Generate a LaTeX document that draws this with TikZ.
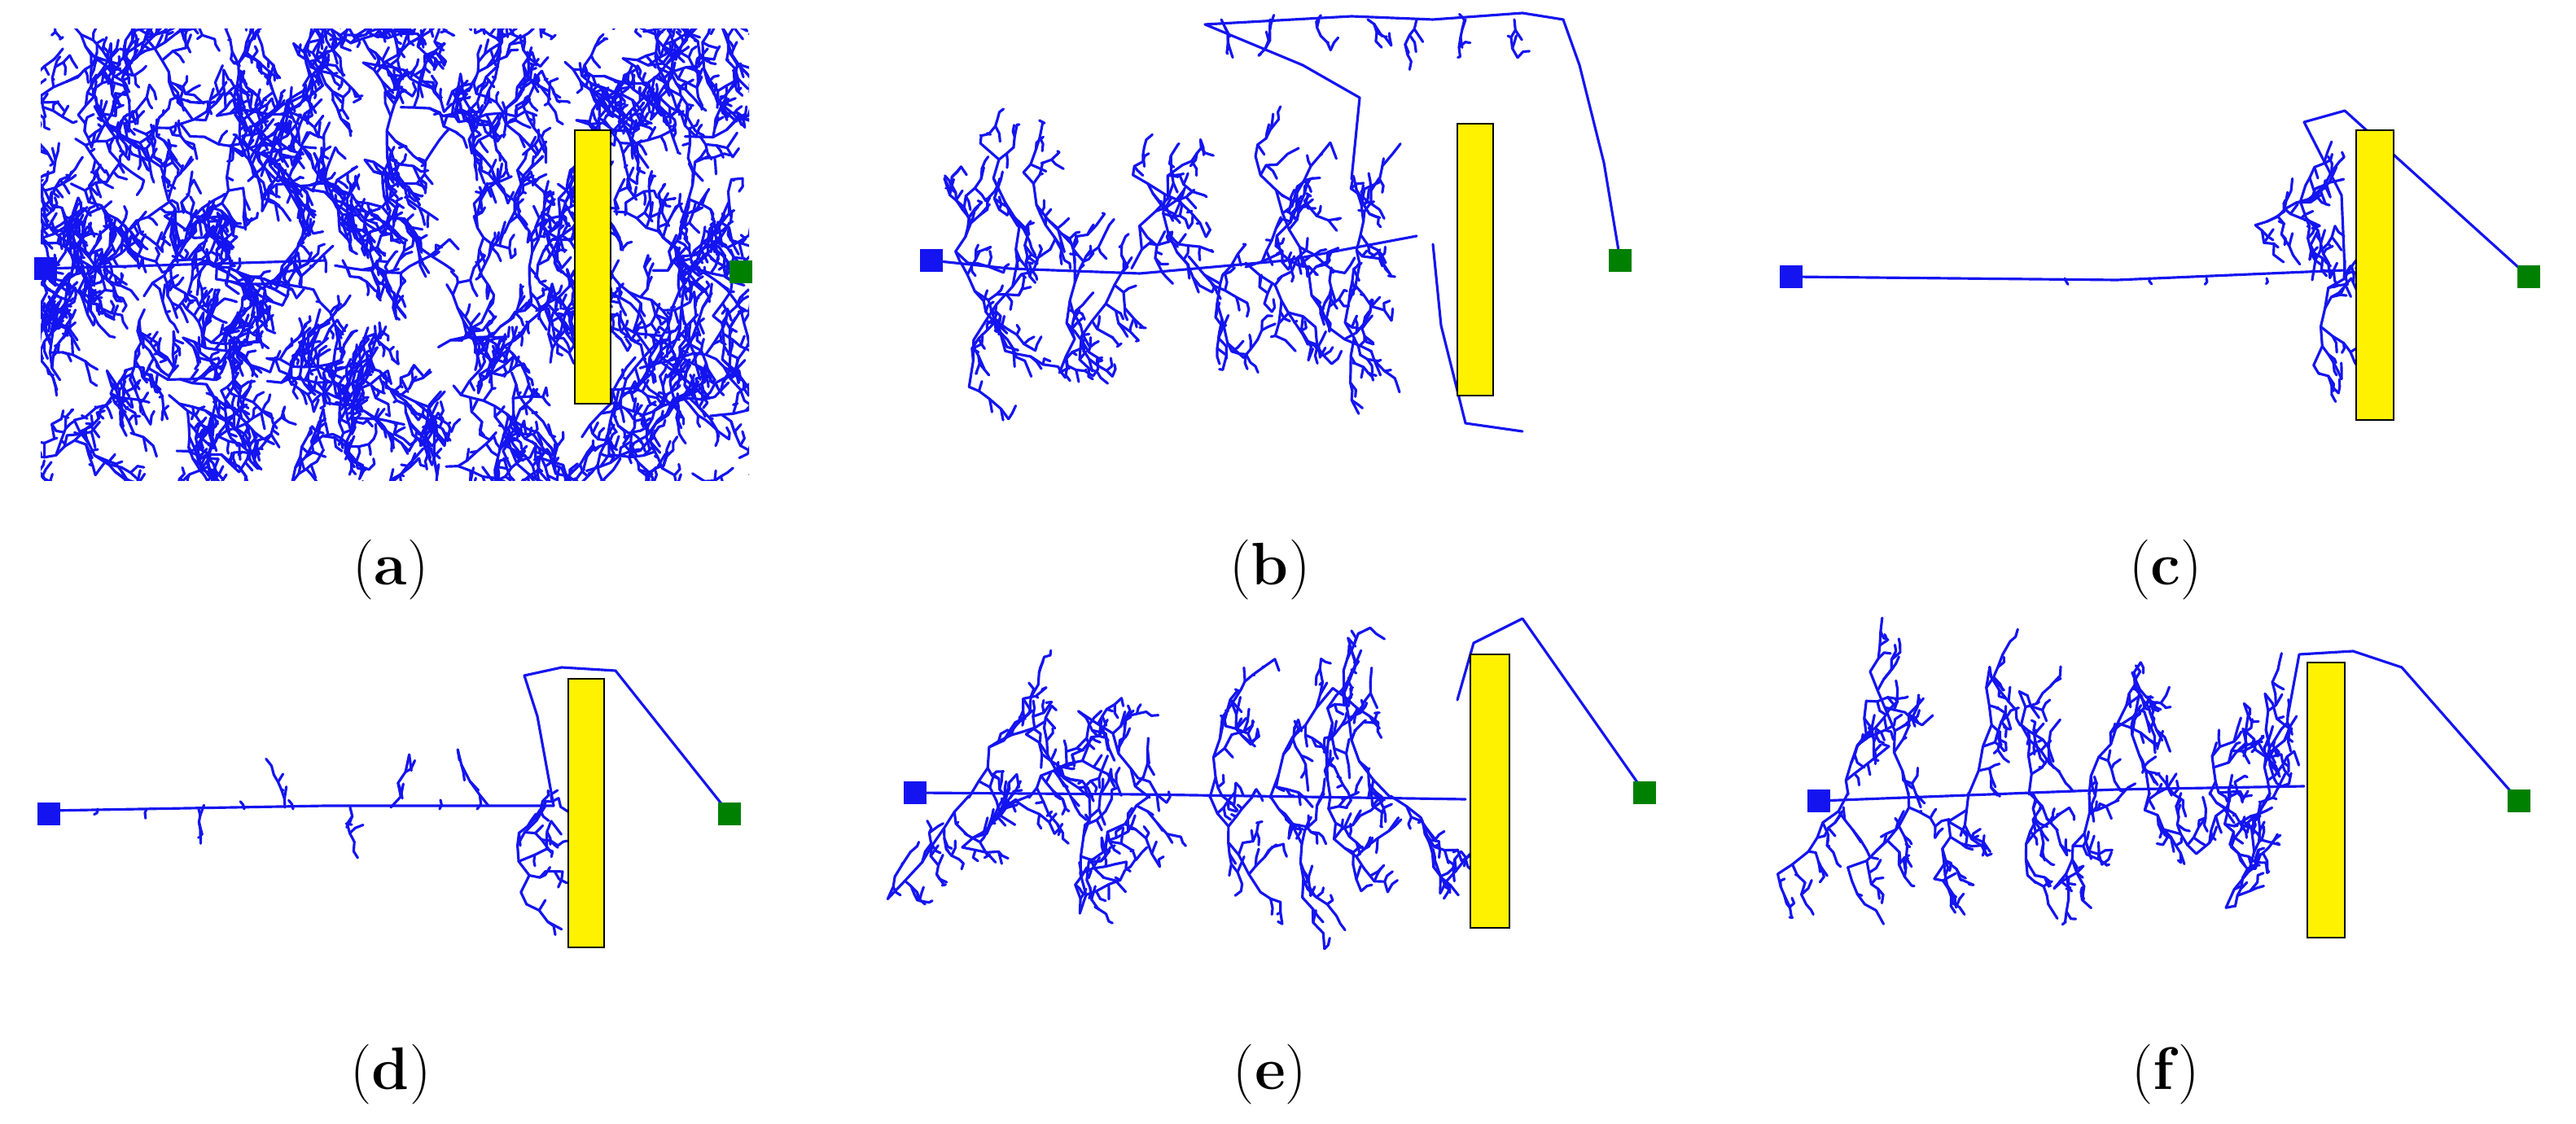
\documentclass[tikz,border=0pt]{standalone}
\begin{document}
\pgfmathsetseed{11}
\definecolor{treeblue}{RGB}{20,20,240}
\definecolor{goalgreen}{RGB}{0,128,0}
\tikzset{
 tree/.style={draw=treeblue, line width=0.9pt, line join=round, line cap=round},
 twig/.pic={\draw[tree] (0,0) -- ++({rand*30}:{3+3*rnd}) -- ++({rand*50}:{2+4*rnd});},
 brm/.pic={\draw[tree] (0,0) foreach \i in {1,...,4}{ -- ++({rand*40}:{6+4*rnd}) pic[rotate={(rnd<0.5?65:-65)+rand*20}, scale={rnd<0.3?0:1}]{twig}};},
 brl/.pic={\draw[tree] (0,0) foreach \j in {1,...,6}{ -- ++({rand*35}:{8+5*rnd}) pic[rotate={(rnd<0.5?55:-55)+rand*20}, scale={0.6+0.5*rnd}]{brm}};},
 bar/.style={fill=yellow, draw=black, line width=0.6pt},
 startsq/.style={fill=treeblue, minimum size=8pt, inner sep=0pt},
 goalsq/.style={fill=goalgreen, minimum size=8pt, inner sep=0pt},
 lab/.style={font=\fontsize{21}{25}\selectfont},
}
\begin{tikzpicture}[x=0.02cm,y=-0.02cm]
\useasboundingbox (0,0) rectangle (1582,690.5);
% ---------- (a)
\begin{scope}
\clip (25,18) rectangle (460,295);
\foreach \gx in {15,47,...,475} \foreach \gy in {10,42,...,305}
  \path (\gx+rand*12,\gy+rand*12) pic[rotate={360*rnd}, scale=0.75]{brl};
\draw[tree] (28,165) -- (200,160);
\end{scope}
\draw[bar] (353,80) rectangle (375,248);
\node[startsq] (sa) at (28,165) {};
\node[goalsq] (ga) at (455,167) {};
\node[lab] (la) at (240,350) {(\textbf{a})};
% ---------- (b)
\draw[tree] (572,160) -- (620,165) -- (700,168) -- (790,160) -- (870,145);
\foreach \x in {590,625,...,860} {
  \path (\x,{160+rand*3}) pic[rotate={-90+rand*40}, scale={0.9+0.5*rnd}]{brl};
  \path (\x,{162+rand*3}) pic[rotate={90+rand*40}, scale={0.9+0.5*rnd}]{brl};
}
\draw[tree] (830,110) -- (835,60) -- (800,40) -- (740,15) -- (830,10) -- (880,12) -- (935,8) -- (960,12) -- (970,40) -- (985,100) -- (995,160);
\foreach \x in {750,780,...,930} \path (\x,12) pic[rotate={-90+rand*20}, scale=0.7]{brm};
\draw[tree] (880,150) -- (885,200) -- (900,260) -- (935,265);
\draw[bar] (895,76) rectangle (917,243);
\node[startsq] (sb) at (572,160) {};
\node[goalsq] (gb) at (995,160) {};
\node[lab] (lb) at (780,350) {(\textbf{b})};
% ---------- (c)
\draw[tree] (1100,170) -- (1300,172) -- (1440,166);
\foreach \x in {1268,1320,1355,1392} \path (\x,171) pic[rotate={(rnd<0.5?90:-90)}, scale=0.5]{twig};
\path (1440,160) pic[rotate=-110, scale=1.2]{brl};
\path (1425,120) pic[rotate=-150, scale=0.7]{brl};
\path (1420,172) pic[rotate=105, scale=1.1]{brl};
\draw[tree] (1440,166) -- (1438,120) -- (1415,75) -- (1440,68) -- (1553,170);
\draw[bar] (1447,80) rectangle (1470,258);
\node[startsq] (sc) at (1100,170) {};
\node[goalsq] (gc) at (1553,170) {};
\node[lab] (lc) at (1330,350) {(\textbf{c})};
% ---------- (d)
\draw[tree] (30,498) -- (200,495) -- (340,495);
\foreach \x in {60,90,150,180,270} \path (\x,497) pic[rotate={(rnd<0.5?90:-90)}, scale=0.6]{twig};
\path (122,497) pic[rotate=-90, scale=0.5]{brm};
\path (215,496) pic[rotate=-90, scale=0.8]{brm};
\path (240,496) pic[rotate=90, scale=1.2]{brm};
\path (175,496) pic[rotate=90, scale=0.6]{brm};
\path (300,495) pic[rotate=90, scale=1.4]{brm};
\path (335,495) pic[rotate=-95, scale=1.0]{brl};
\draw[tree] (340,495) -- (330,440) -- (322,415) -- (345,410) -- (378,412) -- (448,500);
\draw[bar] (349,417) rectangle (371,582);
\node[startsq] (sd) at (30,500) {};
\node[goalsq] (gd) at (448,500) {};
\node[lab] (ld) at (240,660) {(\textbf{d})};
% ---------- (e)
\draw[tree] (562,487) -- (700,488) -- (900,491);
\foreach \x in {595,632,...,885} {
  \path (\x,489) pic[rotate={-90+rand*40}, scale={0.8+0.5*rnd}]{brl};
  \path (\x,490) pic[rotate={90+rand*40}, scale={0.8+0.5*rnd}]{brl};
}
\draw[tree] (895,430) -- (905,395) -- (935,380) -- (1010,487);
\draw[bar] (903,402) rectangle (927,570);
\node[startsq] (se) at (562,487) {};
\node[goalsq] (ge) at (1010,487) {};
\node[lab] (le) at (780,660) {(\textbf{e})};
% ---------- (f)
\draw[tree] (1117,492) -- (1300,485) -- (1415,483);
\foreach \x in {1135,1172,...,1405} {
  \path (\x,487) pic[rotate={-90+rand*40}, scale={0.8+0.5*rnd}]{brl};
  \path (\x,488) pic[rotate={90+rand*40}, scale={0.8+0.5*rnd}]{brl};
}
\draw[tree] (1405,440) -- (1412,402) -- (1445,400) -- (1475,410) -- (1547,492);
\draw[bar] (1417,407) rectangle (1440,576);
\node[startsq] (sf) at (1117,492) {};
\node[goalsq] (gf) at (1547,492) {};
\node[lab] (lf) at (1330,660) {(\textbf{f})};
\end{tikzpicture}
\end{document}
